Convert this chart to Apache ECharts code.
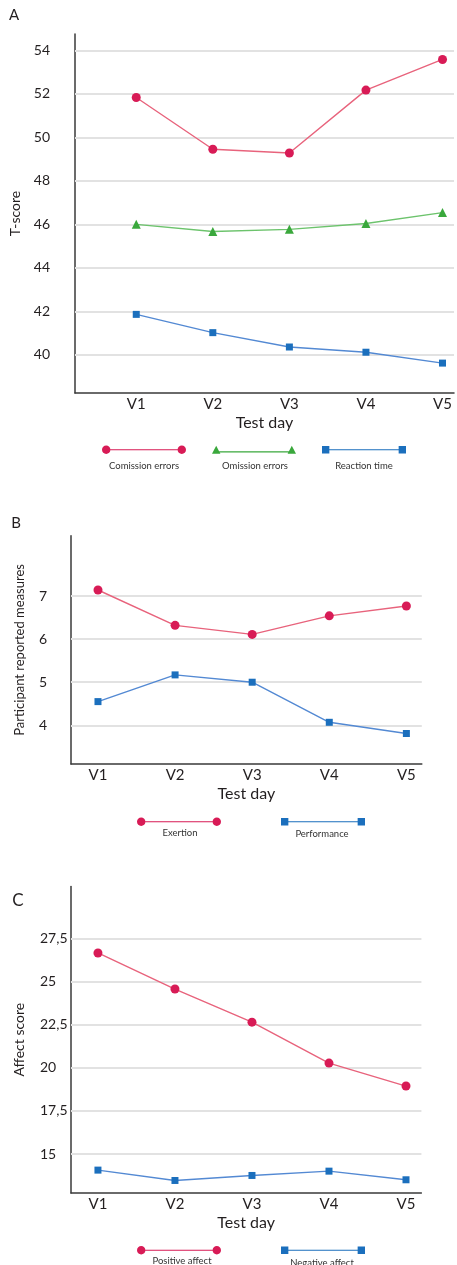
<!DOCTYPE html>
<html>
<head>
<meta charset="utf-8">
<script src="https://cdn.jsdelivr.net/npm/echarts@6/dist/echarts.min.js"></script>
<style>
html,body{margin:0;padding:0;background:#fff;}
#chart{width:457px;height:1265px;}
</style>
</head>
<body>
<div id="chart"></div>
<script>
// ---- data ----
const categories = ['V1', 'V2', 'V3', 'V4', 'V5'];
const commissionErrors = [51.83, 49.45, 49.28, 52.17, 53.58];
const omissionErrors = [46.0, 45.67, 45.77, 46.04, 46.54];
const reactionTime = [41.86, 41.02, 40.36, 40.12, 39.62];
const exertion = [7.14, 6.32, 6.11, 6.54, 6.77];
const performance = [4.55, 5.17, 5.0, 4.07, 3.81];
const positiveAffect = [26.65, 24.56, 22.64, 20.27, 18.94];
const negativeAffect = [14.07, 13.47, 13.76, 14.01, 13.51];
const ticksA = [40, 42, 44, 46, 48, 50, 52, 54];
const ticksB = [4, 5, 6, 7];
const ticksC = [15, 17.5, 20, 22.5, 25, 27.5];

// ---- styling ----
const FONT = 'Lato';
const TXT = '#231f20';
const RED = '#d81b56', RED_L = '#e8637c';
const GREEN = '#3aa83c', GREEN_L = '#6cc36c';
const BLUE = '#1b6fbd', BLUE_L = '#5389d3';
const GRID_C = '#e2e2e2';

const pts = arr => arr.map((v, i) => [i, v]);
const catFmt = v => { const r = Math.round(v); return (Math.abs(v - r) < 1e-6 && r >= 0 && r < categories.length) ? categories[r] : ''; };
const tickFmt = ticks => v => ticks.some(t => Math.abs(t - v) < 1e-6) ? String(Math.round(v * 100) / 100).replace('.', ',') : '';

function xAxis(gi, min, max) {
  return {
    type: 'value', gridIndex: gi, min: min, max: max, interval: 0.05,
    name: 'Test day', nameLocation: 'middle', nameGap: 22,
    nameTextStyle: { fontFamily: FONT, fontSize: 16, color: TXT },
    axisLine: { show: true, onZero: false, lineStyle: { color: '#3a3a3a', width: 1.5 } },
    axisTick: { show: false }, splitLine: { show: false },
    axisLabel: { formatter: catFmt, margin: 4, fontFamily: FONT, fontSize: 15, color: TXT }
  };
}
function yAxis(gi, min, max, interval, ticks, name, nameGap, nameSize, labelAlign, labelMargin) {
  return {
    type: 'value', gridIndex: gi, min: min, max: max, interval: interval,
    name: name, nameLocation: 'middle', nameGap: nameGap,
    nameTextStyle: { fontFamily: FONT, fontSize: nameSize, color: TXT },
    axisLine: { show: true, onZero: false, lineStyle: { color: '#3a3a3a', width: 1.5 } },
    axisTick: { show: false }, splitLine: { show: false },
    axisLabel: { formatter: tickFmt(ticks), align: labelAlign, margin: labelMargin, fontFamily: FONT, fontSize: 14, color: TXT }
  };
}
function gridSeries(gi, ticks) {
  return {
    type: 'line', name: 'grid' + gi, xAxisIndex: gi, yAxisIndex: gi, data: [], z: 1, silent: true,
    markLine: {
      silent: true, z: 1, symbol: ['none', 'none'], label: { show: false },
      lineStyle: { color: GRID_C, type: 'solid', width: 2 },
      emphasis: { disabled: true },
      data: ticks.map(t => ({ yAxis: t }))
    }
  };
}
function lineSeries(gi, name, vals, symbol, size, color, lineColor) {
  return {
    type: 'line', name: name, xAxisIndex: gi, yAxisIndex: gi, data: pts(vals), z: 3,
    symbol: symbol, symbolSize: size, showAllSymbol: true,
    itemStyle: { color: color }, lineStyle: { color: lineColor, width: 1.4 },
    emphasis: { disabled: true }
  };
}
const ICON_CIRCLE = 'path://M0,4C0,1.8 1.8,0 4,0C6.2,0 8,1.8 8,4C8,6.2 6.2,8 4,8C1.8,8 0,6.2 0,4Z' +
  'M4,3.5L76,3.5L76,4.6L4,4.6Z' +
  'M72,4C72,1.8 73.8,0 76,0C78.2,0 80,1.8 80,4C80,6.2 78.2,8 76,8C73.8,8 72,6.2 72,4Z';
const ICON_TRI = 'path://M0,8L4,0.5L8,8Z M4,5.8L76,5.8L76,6.9L4,6.9Z M72,8L76,0.5L80,8Z';
const ICON_RECT = 'path://M0,0.5L7,0.5L7,7.5L0,7.5Z M3,3.5L77,3.5L77,4.6L3,4.6Z M73,0.5L80,0.5L80,7.5L73,7.5Z';

function legend(items, left, top, gap) {
  return {
    left: left, top: top, padding: 0, orient: 'horizontal', itemWidth: 84, itemHeight: 9, itemGap: gap,
    selectedMode: false, formatter: () => '',
    textStyle: { fontSize: 1, lineHeight: 1 },
    data: items.map(it => ({ name: it[0], icon: it[1], itemStyle: { color: it[2], borderWidth: 0 } }))
  };
}
function legendText(text, x, y) {
  return { type: 'text', x: x, y: y, style: { text: text, fill: '#333', font: '9.5px ' + FONT, textAlign: 'center', textVerticalAlign: 'middle' } };
}
function panelLetter(text, x, y, size) {
  return { type: 'text', x: x, y: y, style: { text: text, fill: TXT, font: size + 'px ' + FONT, textAlign: 'center', textVerticalAlign: 'middle' } };
}

const option = {
  backgroundColor: '#fff',
  animation: false,
  grid: [
    { left: 75, right: 0, top: 34, height: 358.9 },
    { left: 71, width: 350.8, top: 535.7, height: 228.4 },
    { left: 71, width: 350.4, top: 886.5, height: 306.4 }
  ],
  xAxis: [xAxis(0, -0.8, 4.15), xAxis(1, -0.35, 4.2), xAxis(2, -0.35, 4.2)],
  yAxis: [
    yAxis(0, 38.25, 54.75, 0.25, ticksA, 'T-score', 53, 14, 'right', 25),
    yAxis(1, 3.1, 8.4, 0.1, ticksB, 'Participant reported measures', 45, 13, 'right', 24),
    yAxis(2, 12.75, 30.5, 0.25, ticksC, 'Affect score', 45, 14, 'left', 31)
  ],
  legend: [
    legend([['Comission errors', ICON_CIRCLE, RED], ['Omission errors', ICON_TRI, GREEN], ['Reaction time', ICON_RECT, BLUE]], 102, 445.5, 21),
    legend([['Exertion', ICON_CIRCLE, RED], ['Performance', ICON_RECT, BLUE]], 137, 817.5, 55),
    legend([['Positive affect', ICON_CIRCLE, RED], ['Negative affect', ICON_RECT, BLUE]], 137, 1246, 55)
  ],
  graphic: [
    panelLetter('A', 14, 15, 15),
    panelLetter('B', 16, 523, 15),
    panelLetter('C', 18, 901, 17),
    legendText('Comission errors', 144, 466),
    legendText('Omission errors', 255, 466),
    legendText('Reaction time', 364, 466),
    legendText('Exertion', 180, 833),
    legendText('Performance', 322, 834),
    legendText('Positive affect', 182, 1261),
    legendText('Negative affect', 322, 1263)
  ],
  series: [
    gridSeries(0, ticksA), gridSeries(1, ticksB), gridSeries(2, ticksC),
    lineSeries(0, 'Comission errors', commissionErrors, 'circle', 9, RED, RED_L),
    lineSeries(0, 'Omission errors', omissionErrors, 'triangle', 9, GREEN, GREEN_L),
    lineSeries(0, 'Reaction time', reactionTime, 'rect', 7, BLUE, BLUE_L),
    lineSeries(1, 'Exertion', exertion, 'circle', 9, RED, RED_L),
    lineSeries(1, 'Performance', performance, 'rect', 7, BLUE, BLUE_L),
    lineSeries(2, 'Positive affect', positiveAffect, 'circle', 9, RED, RED_L),
    lineSeries(2, 'Negative affect', negativeAffect, 'rect', 7, BLUE, BLUE_L)
  ]
};
const chart = echarts.init(document.getElementById('chart'), null, { renderer: 'canvas' });
chart.setOption(option);
</script>
</body>
</html>
